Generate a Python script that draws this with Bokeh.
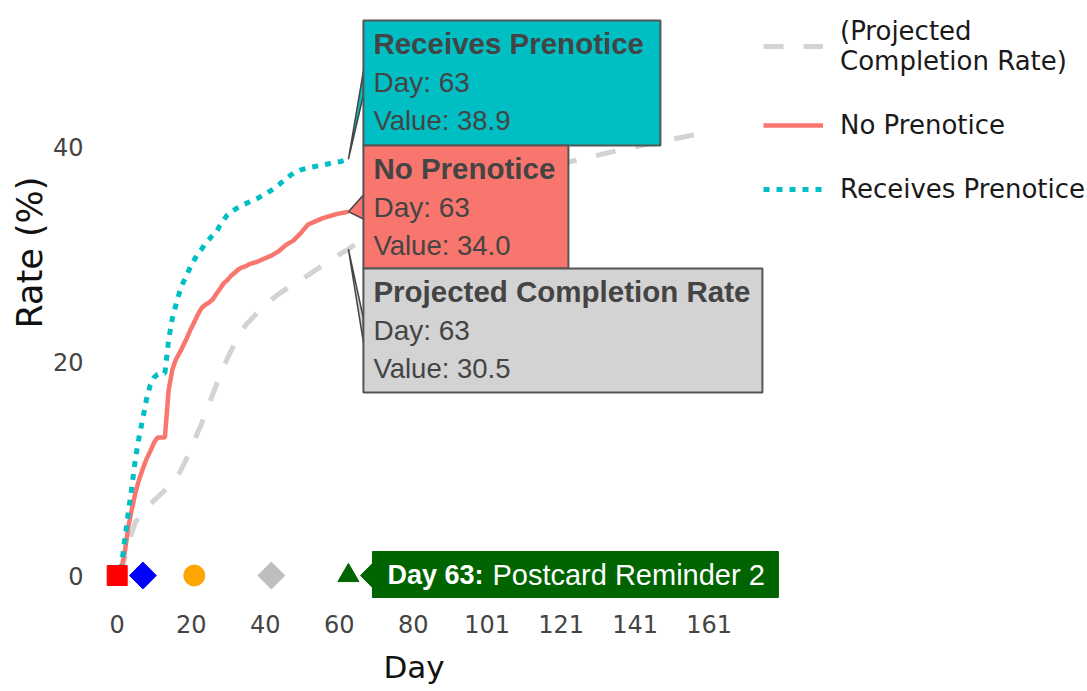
from bokeh.plotting import figure
from bokeh.models import (FixedTicker, Legend, LegendItem, BoxAnnotation, Label,
                          Range1d, ColumnDataSource, Title)
from bokeh.embed import file_html
from bokeh.resources import INLINE

# ---------------- data ----------------
days_no = [1, 2, 3, 4, 5, 6, 7, 8, 9, 10, 11, 12, 13, 14, 15, 16, 17, 18, 19, 20,
           21, 22, 23, 24, 25, 26, 27, 28, 29, 30, 31, 32, 33, 34, 35, 36, 38, 40,
           42, 44, 46, 48, 50, 52, 54, 56, 58, 60, 63]
rate_no = [0.5, 2.0, 4.5, 6.2, 7.8, 9.0, 10.0, 10.9, 11.6, 12.4, 12.9, 12.9, 12.9,
           17.3, 19.2, 20.2, 20.8, 21.5, 22.2, 23.0, 23.7, 24.4, 25.0, 25.3, 25.5,
           25.8, 26.3, 26.8, 27.3, 27.6, 28.0, 28.3, 28.6, 28.8, 28.9, 29.1, 29.3,
           29.6, 29.9, 30.3, 30.9, 31.3, 32.0, 32.8, 33.1, 33.4, 33.6, 33.8, 34.0]

days_pre = [1, 2, 3, 4, 5, 6, 7, 8, 9, 10, 11, 12, 13, 14, 15, 16, 17, 18, 19, 20,
            21, 22, 23, 24, 25, 26, 27, 28, 29, 30, 31, 32, 34, 36, 38, 40, 42, 44,
            46, 48, 50, 52, 55, 58, 61, 63]
rate_pre = [0.5, 3.2, 5.8, 8.3, 11.0, 13.0, 14.7, 16.5, 17.8, 18.5, 18.8, 18.9, 18.9,
            22.0, 24.0, 25.3, 26.5, 27.4, 28.1, 28.9, 29.5, 30.1, 30.5, 31.0, 31.4,
            31.8, 32.1, 32.7, 33.2, 33.7, 34.0, 34.2, 34.6, 34.9, 35.2, 35.6, 36.0,
            36.5, 37.1, 37.6, 37.9, 38.1, 38.3, 38.5, 38.7, 38.9]

days_proj = [1, 3, 5, 7, 10, 14, 17, 19, 21, 23, 25, 27, 29, 31, 33, 35, 38, 41, 44,
             47, 50, 53, 56, 59, 63, 70, 80, 90, 100, 110, 120, 130, 140, 150, 162]
rate_proj = [0.0, 3.0, 5.0, 6.0, 7.0, 8.3, 9.6, 11.0, 12.6, 14.2, 16.0, 17.8, 19.5,
             21.0, 22.3, 23.4, 24.5, 25.5, 26.3, 27.0, 27.6, 28.3, 29.0, 29.7, 30.5,
             32.2, 34.3, 35.8, 36.9, 37.7, 38.4, 39.2, 40.0, 40.7, 41.5]

event_days = [0, 7, 21, 42, 63]
event_rate = [0, 0, 0, 0, 0]

x_ticks = [0, 20.16, 40.32, 60.48, 80.64, 100.8, 120.96, 141.12, 161.28]
x_tick_labels = ["0", "20", "40", "60", "80", "101", "121", "141", "161"]
y_ticks = [0, 20, 40]

hover_day = 63
hover_names = ["Receives Prenotice", "No Prenotice", "Projected Completion Rate"]
hover_values = [38.9, 34.0, 30.5]
event_title = "Day 63:"
event_text = "Postcard Reminder 2"

# ---------------- styles ----------------
C_NO = "#F8766D"
C_PRE = "#00BFC4"
C_PROJ = "#D3D3D3"
TXT = "#444444"
event_marker = ["square", "square", "circle", "square", "triangle"]
event_color = ["#FF0000", "#0000FF", "#FFA500", "#BEBEBE", "#006400"]
event_size = [20, 19, 21, 19, 21]
event_angle = [0, 0.785398, 0, 0.785398, 0]

SX = 3.67   # px per day
SY = 10.7   # px per unit

p = figure(width=1085, height=690,
           x_range=Range1d(-5.913, 263.84), y_range=Range1d(-2.336, 53.738),
           min_border_left=95, min_border_right=0, min_border_top=0,
           min_border_bottom=90, output_backend="svg", toolbar_location=None)
p.outline_line_color = None
p.grid.visible = False
p.background_fill_color = "white"

# lines
r_proj = p.line(days_proj, rate_proj, line_color=C_PROJ, line_width=5,
                line_dash="20 20")
r_no = p.line(days_no, rate_no, line_color=C_NO, line_width=4.5)
r_pre = p.line(days_pre, rate_pre, line_color=C_PRE, line_width=5,
               line_dash="6 7")

# event markers
src = ColumnDataSource(dict(x=event_days, y=event_rate, marker=event_marker,
                            color=event_color, size=event_size, angle=event_angle))
p.scatter("x", "y", marker="marker", fill_color="color", line_color="color",
          size="size", angle="angle", source=src)

# ---------------- hover-style labels ----------------
def dx(px):
    return hover_day + px / SX


def dy(v, px_up):
    return v + px_up / SY


box_fill = [C_PRE, C_NO, C_PROJ]
# box geometry in px relative to the point: (top_up, bottom_up, right)
box_geom = [(138.8, 13.8, 312), (66.2, -56.8, 220), (-19.3, -143.3, 414)]
ptr_xs, ptr_ys, ptr_fill = [], [], []
for name, v, fill, (tu, bu, rr) in zip(hover_names, hover_values, box_fill, box_geom):
    center_up = (tu + bu) / 2.0
    ptr_xs.append([dx(0), dx(15), dx(15)])
    ptr_ys.append([v, dy(v, center_up + 12), dy(v, center_up - 12)])
    ptr_fill.append(fill)
p.patches(ptr_xs, ptr_ys, fill_color=ptr_fill, line_color="#444444", line_width=1.5)

# event pointer
p.patch([dx(12), dx(24), dx(24)], [0, dy(0, 12), dy(0, -12)],
        fill_color="#006400", line_color="#006400")

for name, v, fill, (tu, bu, rr) in zip(hover_names, hover_values, box_fill, box_geom):
    p.add_layout(BoxAnnotation(left=dx(15), right=dx(rr), top=dy(v, tu),
                               bottom=dy(v, bu), fill_color=fill, fill_alpha=1.0,
                               line_color="#555555", line_width=2, line_alpha=1.0))
    lines = [(name, "bold", 29.5, 23), ("Day: %d" % hover_day, "normal", 28, 62),
             ("Value: %.1f" % v, "normal", 27.5, 100)]
    for txt, style, fs, off in lines:
        p.add_layout(Label(x=hover_day, y=v, x_offset=25, y_offset=tu - off,
                           text=txt, text_font="Liberation Sans",
                           text_font_style=style, text_font_size="%spx" % fs,
                           text_color=TXT, text_baseline="middle",
                           text_align="left"))

# event label box
p.add_layout(BoxAnnotation(left=dx(24), right=dx(430), top=dy(0, 24),
                           bottom=dy(0, -22), fill_color="#006400", fill_alpha=1.0,
                           line_color="#006400", line_alpha=1.0))
p.add_layout(Label(x=hover_day, y=0, x_offset=39, y_offset=1, text=event_title,
                   text_font="Liberation Sans", text_font_style="bold",
                   text_font_size="27px", text_color="white",
                   text_baseline="middle"))
p.add_layout(Label(x=hover_day, y=0, x_offset=144, y_offset=1, text=event_text,
                   text_font="Liberation Sans", text_font_size="29px",
                   text_color="white", text_baseline="middle"))

# ---------------- axes ----------------
p.xaxis.ticker = FixedTicker(ticks=x_ticks)
p.xaxis.major_label_overrides = {t: l for t, l in zip(x_ticks, x_tick_labels)}
p.yaxis.ticker = FixedTicker(ticks=y_ticks)
for ax in (p.xaxis, p.yaxis):
    ax.axis_line_color = None
    ax.major_tick_line_color = None
    ax.minor_tick_line_color = None
    ax.major_tick_out = 0
    ax.major_tick_in = 0
    ax.major_label_text_font = "DejaVu Sans"
    ax.major_label_text_font_size = "24px"
    ax.major_label_text_color = TXT
p.xaxis.major_label_standoff = 14
p.yaxis.major_label_standoff = 12
# tiny spacer label pushes the "Day" title a little lower
p.xaxis.axis_label = " "
p.xaxis.axis_label_text_font_size = "1px"
p.xaxis.axis_label_standoff = 9

# axis titles (positioned like the reference, off the frame centre)
p.add_layout(Title(text="Day", align="left", offset=288, standoff=0,
                   vertical_align="top",
                   text_font="DejaVu Sans", text_font_size="31px",
                   text_font_style="normal", text_color="#111111"), "below")
p.add_layout(Title(text="Rate (%)", align="left", offset=272, standoff=0,
                   text_font="DejaVu Sans", text_font_size="35px",
                   text_font_style="normal", text_color="#111111"), "left")

# ---------------- legend ----------------
legend = Legend(items=[
    LegendItem(label="(Projected\nCompletion Rate)", renderers=[r_proj]),
    LegendItem(label="No Prenotice", renderers=[r_no]),
    LegendItem(label="Receives Prenotice", renderers=[r_pre]),
], location=(668, 396), padding=0, margin=0, spacing=34, glyph_width=60,
    label_standoff=17, border_line_color=None, background_fill_alpha=0,
    label_text_font="DejaVu Sans", label_text_font_size="26px",
    label_text_line_height=1.45, label_text_color="#1a1a1a")
p.add_layout(legend)

open("out.html", "w").write(file_html(p, INLINE))
